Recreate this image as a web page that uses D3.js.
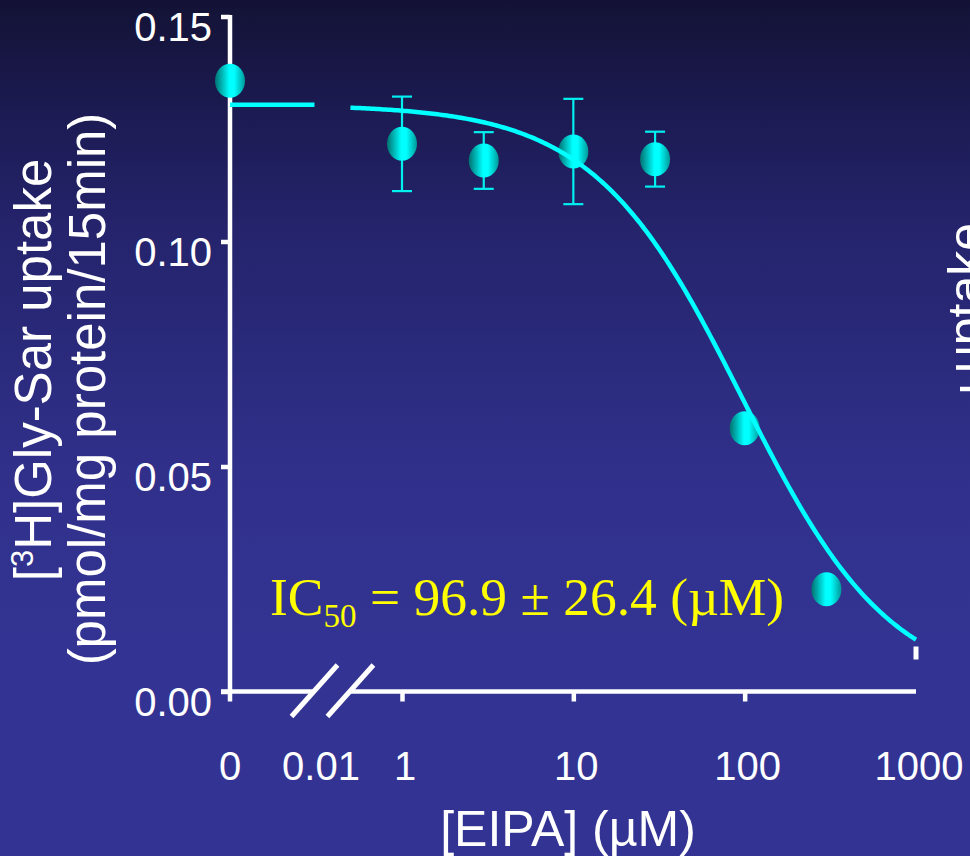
<!DOCTYPE html>
<html>
<head>
<meta charset="utf-8">
<script src="https://cdn.jsdelivr.net/npm/d3@7"></script>
<style>
  html, body { margin: 0; padding: 0; background: #1c1b52; }
  svg { display: block; }
</style>
</head>
<body>
<svg id="chart" width="970" height="856"></svg>
<script>
// EIPA concentration (µM) and measured [3H]Gly-Sar uptake, mean ± SEM
const doses  = [0, 1, 3, 10, 30, 100, 300];
const uptake = [0.1357, 0.1217, 0.1180, 0.1200, 0.1183, 0.0585, 0.0227];
const sem    = [0, 0.0105, 0.0063, 0.0117, 0.0061, 0, 0];

// Axis ticks
const yTicks = [0, 0.05, 0.10, 0.15];
const xTickValues = [0, 0.01, 1, 10, 100, 1000];
const xTickLabels = ["0", "0.01", "1", "10", "100", "1000"];
const xDownTicks = [1, 10, 100];

// One-site inhibition fit
const fitTop = 0.1304, fitBottom = 0, ic50 = 96.9, hill = 1.0;
const breakLow = 0.0096, breakHigh = 0.5;   // axis break between the zero stub and the log part

const W = 970, H = 856;
const svg = d3.select("#chart");
const defs = svg.append("defs");

// background: dark navy at the top fading to slate blue
const bg = defs.append("linearGradient").attr("id", "bg")
  .attr("x1", 0).attr("y1", 0).attr("x2", 0).attr("y2", 1);
[[0, "#131235"], [0.12, "#1b1a50"], [0.26, "#24236b"], [0.55, "#30308b"], [0.75, "#333393"], [1, "#333394"]]
  .forEach(([o, c]) => bg.append("stop").attr("offset", o).attr("stop-color", c));
svg.append("rect").attr("width", W).attr("height", H).attr("fill", "url(#bg)");

// shaded cyan bead for the data markers
const bead = defs.append("linearGradient").attr("id", "bead")
  .attr("x1", 0).attr("y1", 0).attr("x2", 1).attr("y2", 0);
[[0, "#007070"], [0.48, "#00ffff"], [0.64, "#00ffff"], [1, "#009898"]]
  .forEach(([o, c]) => bead.append("stop").attr("offset", o).attr("stop-color", c));

// scales
const y = d3.scaleLinear().domain([0, 0.15]).range([691.5, 16.5]);
const xLow = d3.scaleLinear().domain([0, 0.01]).range([230, 318]);
const xLog = d3.scaleLog().domain([1, 1000]).range([402, 916]);
const xPos = v => (v < breakHigh ? xLow(v) : xLog(v));
const y0 = y(0);

const sans = "'Liberation Sans', Arial, Helvetica, sans-serif";
const serif = "'Liberation Serif', 'Times New Roman', serif";

// ---- y axis ----
const yAxis = svg.append("g").attr("transform", `translate(${xLow(0)},0)`)
  .call(d3.axisLeft(y).tickValues(yTicks).tickSize(9).tickSizeOuter(0).tickFormat(d3.format(".2f")));
yAxis.select(".domain").remove();
yAxis.selectAll(".tick line").attr("stroke", "#fff").attr("stroke-width", 4.5);
yAxis.selectAll(".tick text")
  .attr("x", -18).attr("y", 11).attr("dy", "0.32em")
  .attr("fill", "#fff").style("font-family", sans).style("font-size", "40px");
svg.append("line")
  .attr("x1", xLow(0)).attr("x2", xLow(0))
  .attr("y1", y(0.15) - 1.5).attr("y2", y0 + 10)
  .attr("stroke", "#fff").attr("stroke-width", 4.5);

// ---- x axis (broken) ----
const axisG = svg.append("g").attr("stroke", "#fff").attr("stroke-width", 4.5);
axisG.append("line").attr("x1", xLow(0) - 9).attr("x2", xLow(breakLow)).attr("y1", y0).attr("y2", y0);
axisG.append("line").attr("x1", xLog(breakHigh)).attr("x2", xLog(1000)).attr("y1", y0).attr("y2", y0);
// break marks
[xLow(breakLow), xLog(breakHigh)].forEach(bx => {
  axisG.append("line")
    .attr("x1", bx - 23).attr("y1", y0 + 25)
    .attr("x2", bx + 23).attr("y2", y0 - 26.5)
    .attr("stroke-width", 5);
});
// tick marks on the log part
const xAxis = svg.append("g").attr("transform", `translate(0,${y0})`)
  .call(d3.axisBottom(xLog).tickValues(xDownTicks).tickSize(10).tickSizeOuter(0).tickFormat(""));
xAxis.select(".domain").remove();
xAxis.selectAll(".tick line").attr("stroke", "#fff").attr("stroke-width", 4.5);
// short mark standing above the end of the axis
svg.append("line")
  .attr("x1", xLog(1000)).attr("x2", xLog(1000))
  .attr("y1", y0 - 45).attr("y2", y0 - 32)
  .attr("stroke", "#fff").attr("stroke-width", 5);

// x tick labels
svg.append("g").selectAll("text").data(xTickValues).join("text")
  .attr("x", d => xPos(d) + (d === 0 ? 0 : 3))
  .attr("y", 780)
  .attr("text-anchor", "middle")
  .attr("fill", "#fff").style("font-family", sans).style("font-size", "40px")
  .text((d, i) => xTickLabels[i]);

// axis titles
svg.append("text")
  .attr("x", 568).attr("y", 846).attr("text-anchor", "middle")
  .attr("fill", "#fff").style("font-family", sans).style("font-size", "50px")
  .text("[EIPA] (\u00B5M)");

const yt1 = svg.append("text")
  .attr("transform", "translate(51,370) rotate(-90)")
  .attr("text-anchor", "middle")
  .attr("fill", "#fff").style("font-family", sans).style("font-size", "51px");
yt1.append("tspan").text("[");
yt1.append("tspan").attr("dy", -18).style("font-size", "31px").text("3");
yt1.append("tspan").attr("dy", 18).text("H]Gly-Sar uptake");

svg.append("text")
  .attr("transform", "translate(105,389) rotate(-90)")
  .attr("text-anchor", "middle")
  .attr("fill", "#fff").style("font-family", sans).style("font-size", "51px")
  .text("(pmol/mg protein/15min)");

// neighbouring panel, cut off at the right edge
svg.append("text")
  .attr("transform", "translate(983,373) rotate(-90)")
  .attr("text-anchor", "start")
  .attr("fill", "#fff").style("font-family", sans).style("font-size", "50px")
  .text("uptake");
svg.append("line")
  .attr("x1", 960).attr("x2", 972).attr("y1", 389).attr("y2", 389)
  .attr("stroke", "#fff").attr("stroke-width", 4.5);

// ---- data ----
const pts = doses.map((d, i) => ({ dose: d, v: uptake[i], e: sem[i] }));

// error bars
const eb = svg.append("g").attr("stroke", "#00f0f0").attr("stroke-width", 2.2);
pts.filter(p => p.e > 0).forEach(p => {
  const cx = xPos(p.dose);
  eb.append("line").attr("x1", cx).attr("x2", cx).attr("y1", y(p.v + p.e)).attr("y2", y(p.v - p.e));
  eb.append("line").attr("x1", cx - 10).attr("x2", cx + 10).attr("y1", y(p.v + p.e)).attr("y2", y(p.v + p.e));
  eb.append("line").attr("x1", cx - 10).attr("x2", cx + 10).attr("y1", y(p.v - p.e)).attr("y2", y(p.v - p.e));
});

// markers
svg.append("g").selectAll("ellipse").data(pts).join("ellipse")
  .attr("cx", p => xPos(p.dose)).attr("cy", p => y(p.v))
  .attr("rx", 15).attr("ry", 17)
  .attr("fill", "url(#bead)");

// fitted curve
const fit = c => fitBottom + (fitTop - fitBottom) / (1 + Math.pow(c / ic50, hill));
const curveDoses = d3.range(0, 241).map(i => breakHigh * Math.pow(1000 / breakHigh, i / 240));
const line = d3.line().x(c => xLog(c)).y(c => y(fit(c)));
svg.append("path").datum(curveDoses).attr("d", line)
  .attr("fill", "none").attr("stroke", "#00ffff").attr("stroke-width", 4.5);
// control level carried across the zero stub
svg.append("line")
  .attr("x1", xLow(0)).attr("x2", xLow(breakLow))
  .attr("y1", y(fitTop)).attr("y2", y(fitTop))
  .attr("stroke", "#00ffff").attr("stroke-width", 4.5);

// IC50 annotation
const ann = svg.append("text")
  .attr("x", 270).attr("y", 615)
  .attr("fill", "#ffff00").style("font-family", serif).style("font-size", "53.5px");
ann.append("tspan").text("IC");
ann.append("tspan").attr("dy", 12).style("font-size", "33px").text("50");
ann.append("tspan").attr("dy", -12).text(" = 96.9 \u00B1 26.4 (\u00B5M)");
</script>
</body>
</html>
